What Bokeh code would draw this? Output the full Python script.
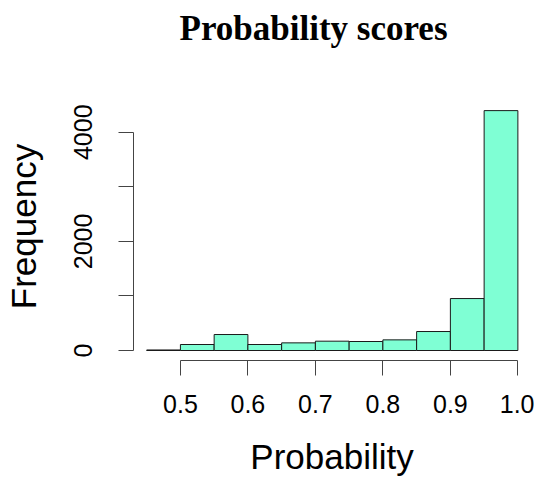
from bokeh.plotting import figure
from bokeh.models import FixedTicker, Range1d, Title
from bokeh.embed import file_html
from bokeh.resources import INLINE

# data
bin_edges = [0.45, 0.50, 0.55, 0.60, 0.65, 0.70, 0.75, 0.80, 0.85, 0.90, 0.95, 1.00]
counts = [10, 110, 293, 110, 140, 171, 165, 195, 348, 952, 4396]
x_ticks = [0.5, 0.6, 0.7, 0.8, 0.9, 1.0]
y_ticks = [0, 1000, 2000, 3000, 4000]
y_tick_labels = {0: "0", 1000: "", 2000: "2000", 3000: "", 4000: "4000"}
title_text = "Probability scores"

W, H = 534, 478
p = figure(width=W, height=H, output_backend="svg", toolbar_location=None,
           x_range=Range1d(0.4305, 1.0187), y_range=Range1d(-183, 4728),
           min_border_left=132, min_border_right=4, min_border_top=92, min_border_bottom=118,
           title=None)

p.quad(left=bin_edges[:-1], right=bin_edges[1:], bottom=0, top=counts,
       fill_color="#7FFFD4", line_color="#1a1a1a", line_width=1)

p.grid.visible = False
p.outline_line_color = None
p.background_fill_color = "white"
p.border_fill_color = "white"

# spacer between frame and the title (pushes the title upward)
p.add_layout(Title(text=" ", text_font_size="10px", standoff=32), "above")
p.add_layout(Title(text=title_text, text_font="Liberation Serif", text_font_style="bold",
                   text_font_size="35px", text_color="black", align="left", offset=46,
                   standoff=0), "above")

ax = p.xaxis[0]
ax.ticker = FixedTicker(ticks=x_ticks)
ax.major_label_overrides = {t: f"{t:.1f}" for t in x_ticks}
ax.bounds = (0.5, 1.0)
ax.axis_label = "Probability"
ay = p.yaxis[0]
ay.ticker = FixedTicker(ticks=y_ticks)
ay.major_label_overrides = y_tick_labels
ay.bounds = (0, 4000)
ay.axis_label = "Frequency"
ay.major_label_orientation = "vertical"

for a in (ax, ay):
    a.axis_line_color = "#444444"
    a.major_tick_line_color = "#444444"
    a.minor_tick_line_color = None
    a.major_tick_in = 0
    a.major_tick_out = 15
    a.major_label_text_font = "Liberation Sans"
    a.major_label_text_font_size = "25px"
    a.major_label_text_color = "black"
    a.axis_label_text_font = "Liberation Sans"
    a.axis_label_text_font_size = "35px"
    a.axis_label_text_font_style = "normal"
    a.axis_label_text_color = "black"
ax.major_label_standoff = 19
ax.axis_label_standoff = 21
ay.major_label_standoff = 26
ay.axis_label_standoff = 29

open("out.html", "w").write(file_html(p, INLINE))
